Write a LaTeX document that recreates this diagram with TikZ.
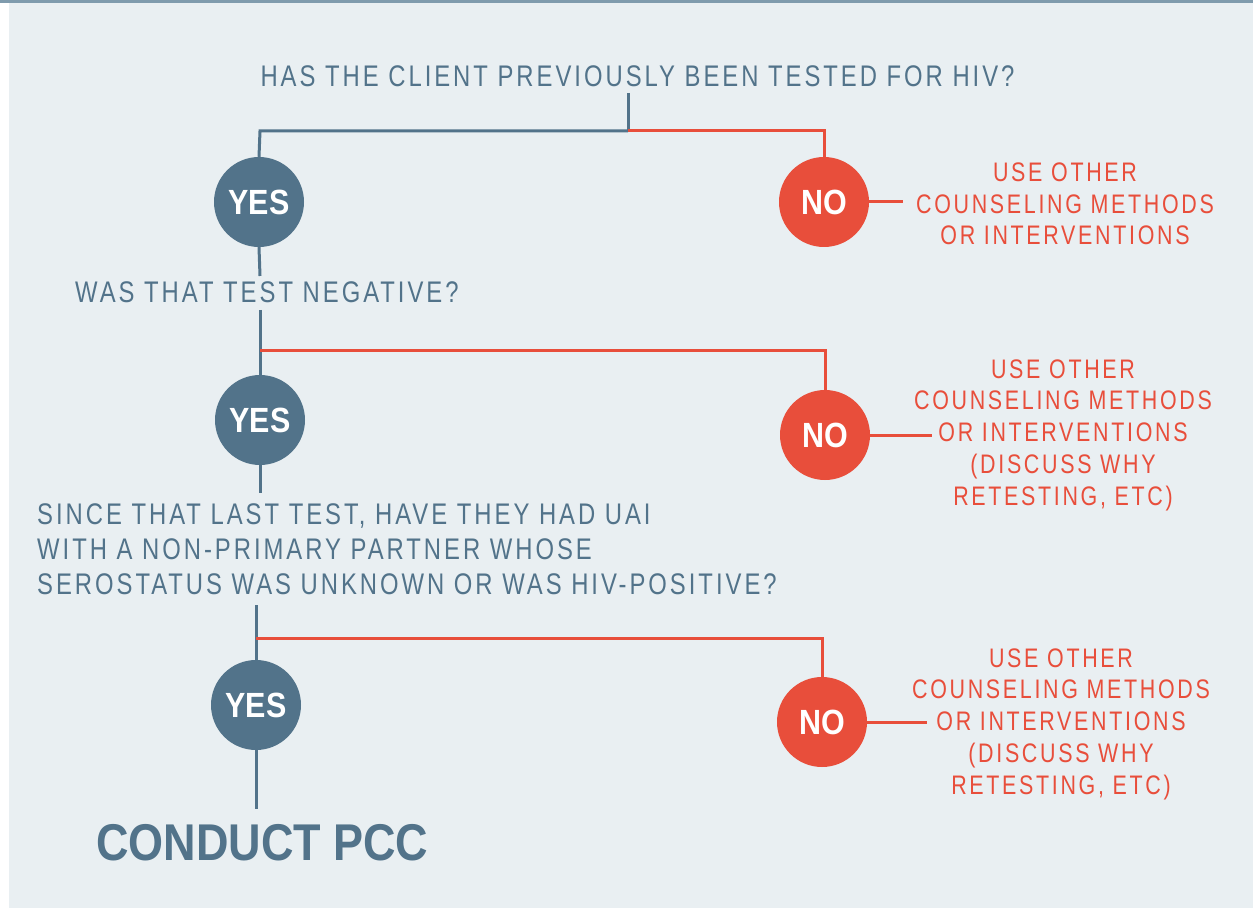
\documentclass[tikz,border=0pt]{standalone}
\usepackage{fontspec}
\setmainfont{Liberation Sans}[FakeStretch=0.8,LetterSpace=10]
\newfontfamily\bcond{Liberation Sans}[FakeStretch=0.87]
\definecolor{bluegray}{HTML}{52738A}
\definecolor{redc}{HTML}{E84E3B}
\definecolor{panel}{HTML}{E9EFF2}
\definecolor{band}{HTML}{7F9BAD}
\tikzset{
  yesc/.style={circle,fill=bluegray,minimum size=90pt,inner sep=0pt,text=white,font=\bcond\bfseries\fontsize{35}{35}\selectfont},
  noc/.style={circle,fill=redc,minimum size=90pt,inner sep=0pt,text=white,font=\bcond\bfseries\fontsize{35}{35}\selectfont},
  qtext/.style={text=bluegray,inner sep=0pt,font=\fontsize{29.8}{35}\selectfont},
  rtext/.style={text=redc,inner sep=0pt,align=center,font=\fontsize{26.8}{31.7}\selectfont},
  bline/.style={draw=bluegray,line width=3pt},
  rline/.style={draw=redc,line width=3pt},
}
\begin{document}
\begin{tikzpicture}[x=1pt,y=-1pt]
\useasboundingbox (0,0) rectangle (1253,909);
\fill[white] (0,0) rectangle (1253,909);
\fill[panel] (9,3) rectangle (1253,908);
\fill[band] (0,0) rectangle (1253,3);

% section 1
\node[qtext,anchor=base] (q1) at (637.5,87) {HAS THE CLIENT PREVIOUSLY BEEN TESTED FOR HIV?};
\node[yesc] (yes1) at (259,202) {YES};
\node[noc] (no1) at (824,202) {NO};
\coordinate (q1s) at (628,93);
\coordinate (j1) at (628,131);
\coordinate (j1l) at (260,131);
\coordinate (j1r) at (824,131);
\draw[bline] (q1s) -- (j1);
\draw[bline] (j1) -- (j1l) -- (yes1.north);
\draw[rline] (j1) -- (j1r) -- (no1.north);
\node[rtext,anchor=base] (r1) at (1065,245) {USE OTHER\\COUNSELING METHODS\\OR INTERVENTIONS};
\coordinate (r1w) at (903,202);
\draw[rline] (no1.east) -- (r1w);

% section 2
\coordinate (y1b) at (260,276);
\draw[bline] (yes1.south) -- (y1b);
\node[qtext,anchor=base west] (q2) at (75,303) {WAS THAT TEST NEGATIVE?};
\node[yesc] (yes2) at (260,420) {YES};
\node[noc] (no2) at (825,435) {NO};
\coordinate (q2s) at (260,310);
\coordinate (j2) at (260,350);
\coordinate (j2r) at (825,350);
\draw[bline] (q2s) -- (yes2.north);
\draw[rline] (j2) -- (j2r) -- (no2.north);
\node[rtext,anchor=base] (r2) at (1063,505) {USE OTHER\\COUNSELING METHODS\\OR INTERVENTIONS\\(DISCUSS WHY\\RETESTING, ETC)};
\coordinate (r2w) at (932,435);
\draw[rline] (no2.east) -- (r2w);

% section 3
\coordinate (y2b) at (260,493);
\draw[bline] (yes2.south) -- (y2b);
\node[qtext,anchor=base west,align=left] (q3) at (37,594) {SINCE THAT LAST TEST, HAVE THEY HAD UAI\\WITH A NON-PRIMARY PARTNER WHOSE\\SEROSTATUS WAS UNKNOWN OR WAS HIV-POSITIVE?};
\node[yesc] (yes3) at (256,705) {YES};
\node[noc] (no3) at (822,722) {NO};
\coordinate (q3s) at (256,605);
\coordinate (j3) at (256,638);
\coordinate (j3r) at (822,638);
\draw[bline] (q3s) -- (yes3.north);
\draw[rline] (j3) -- (j3r) -- (no3.north);
\node[rtext,anchor=base] (r3) at (1061,794) {USE OTHER\\COUNSELING METHODS\\OR INTERVENTIONS\\(DISCUSS WHY\\RETESTING, ETC)};
\coordinate (r3w) at (927,722);
\draw[rline] (no3.east) -- (r3w);

% end
\coordinate (y3b) at (256,809);
\draw[bline] (yes3.south) -- (y3b);
\node[text=bluegray,inner sep=0pt,anchor=base west,font=\bcond\bfseries\fontsize{51.7}{52}\selectfont] (pcc) at (96,860) {CONDUCT PCC};
\end{tikzpicture}
\end{document}
